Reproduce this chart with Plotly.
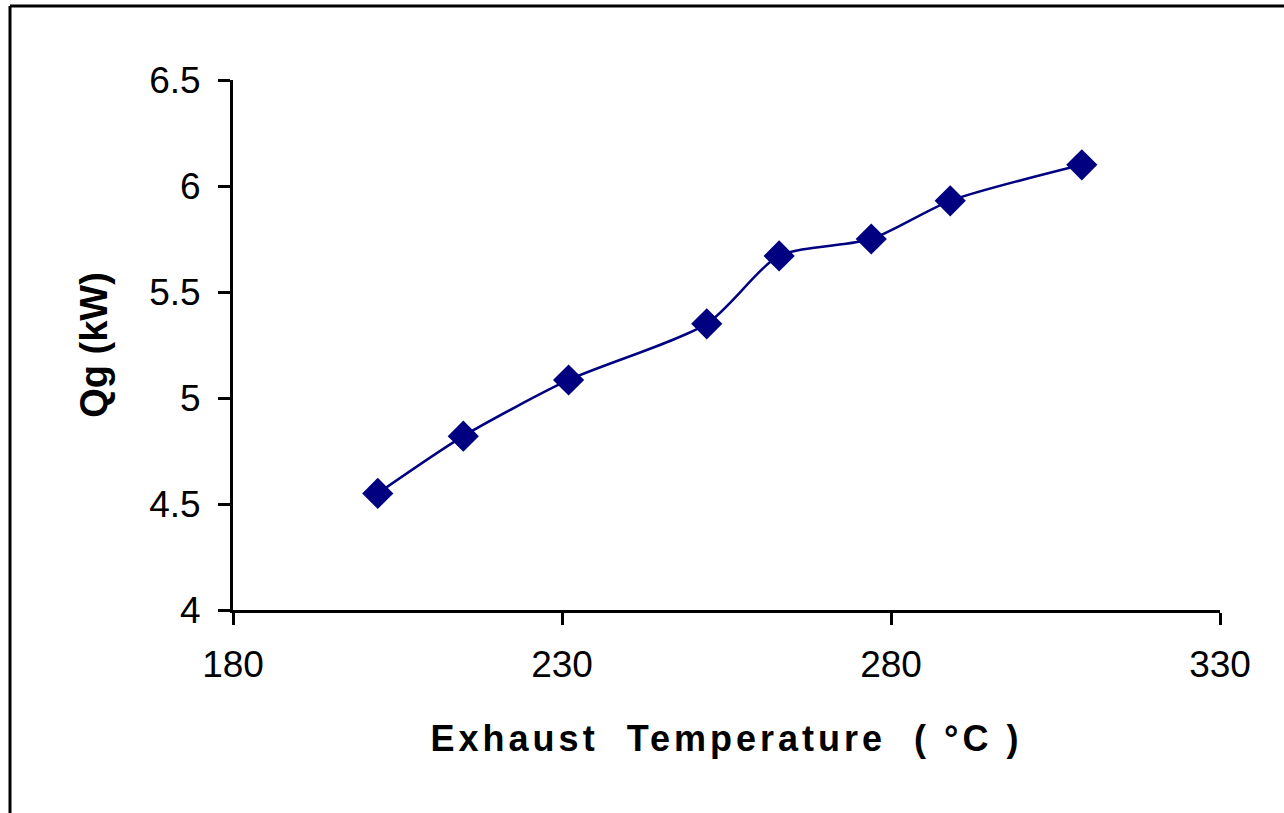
import plotly.graph_objects as go

temps = [202, 215, 231, 252, 263, 277, 289, 309]
qg = [4.55, 4.82, 5.085, 5.35, 5.67, 5.75, 5.93, 6.10]
x_ticks = [180, 230, 280, 330]
y_ticks = [4, 4.5, 5, 5.5, 6, 6.5]
y_tick_text = ["4", "4.5", "5", "5.5", "6", "6.5"]

W, H = 1284, 813
L, R, T, B = 233, 64, 80, 203
pw, ph = W - L - R, H - T - B

def px_x(px):
    return (px - L) / pw

def px_y(py):
    return (H - B - py) / ph

fig = go.Figure()
fig.add_trace(go.Scatter(
    x=temps, y=qg, mode="lines+markers",
    line=dict(color="#000080", width=2.5, shape="spline", smoothing=0.7),
    marker=dict(symbol="diamond", size=24, color="#000080"),
    showlegend=False,
))

axis_common = dict(
    showline=True, linecolor="black", linewidth=3,
    ticks="outside", ticklen=12, tickwidth=3, tickcolor="black",
    showgrid=False, zeroline=False,
    tickfont=dict(family="Liberation Sans, Arial", size=37, color="black"),
)

fig.update_layout(
    width=W, height=H,
    margin=dict(l=L, r=R, t=T, b=B),
    paper_bgcolor="white", plot_bgcolor="white",
    xaxis=dict(
        range=[180, 330], tickvals=x_ticks, ticktext=[str(v) for v in x_ticks],
        ticklabelstandoff=8,
        title=dict(text="<b>Exhaust\u00a0\u00a0Temperature\u00a0\u00a0(\u00a0°C\u00a0)</b>",
                   font=dict(family="Liberation Sans, Arial", size=36, color="black"),
                   standoff=42),
        **axis_common,
    ),
    yaxis=dict(
        range=[4, 6.5], tickvals=y_ticks, ticktext=y_tick_text,
        ticklabelstandoff=10,
        title=dict(text="<b>Qg (kW)</b>",
                   font=dict(family="Liberation Sans, Arial", size=38, color="black"),
                   standoff=30),
        **axis_common,
    ),
    shapes=[
        dict(type="line", xref="paper", yref="paper",
             x0=px_x(10), x1=px_x(1300), y0=px_y(6), y1=px_y(6),
             line=dict(color="black", width=3)),
        dict(type="line", xref="paper", yref="paper",
             x0=px_x(10), x1=px_x(10), y0=px_y(6), y1=px_y(830),
             line=dict(color="black", width=3)),
    ],
)

post = (
    "document.body.style.margin='0px';"
    "document.querySelectorAll('.xtitle').forEach(function(t){t.style.letterSpacing='4px';});"
)

fig.write_html("out.html", post_script=post, config={"displayModeBar": False})
